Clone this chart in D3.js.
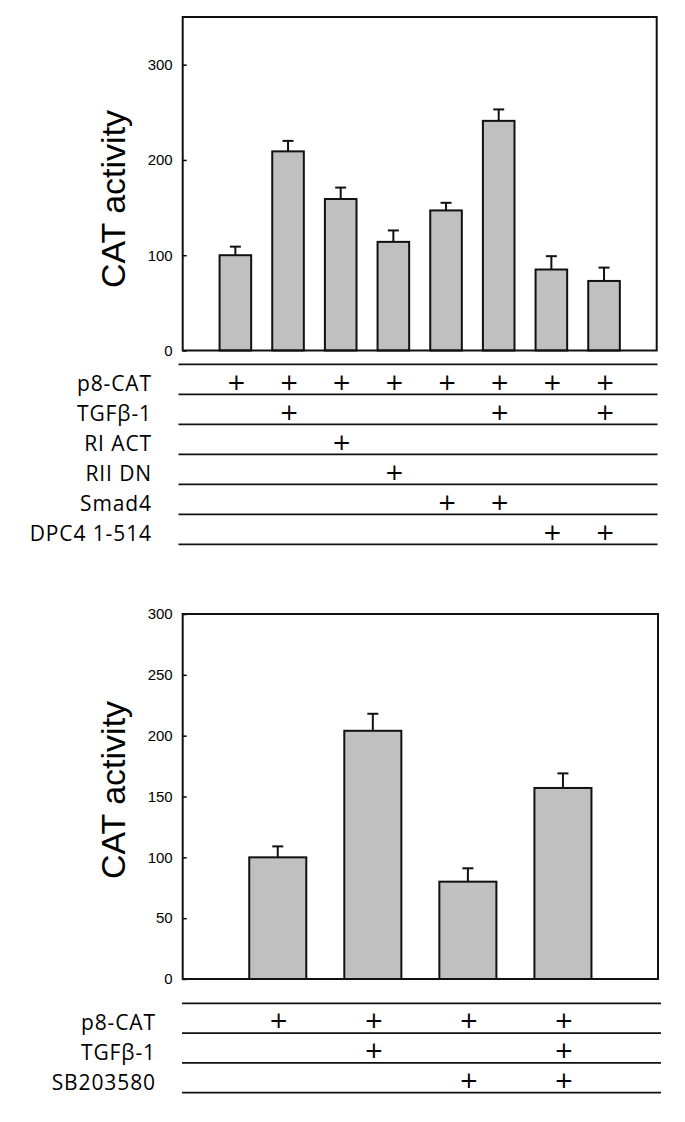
<!DOCTYPE html>
<html>
<head>
<meta charset="utf-8">
<script src="https://cdn.jsdelivr.net/npm/d3@7"></script>
<style>
  html, body { margin: 0; padding: 0; background: #fff; }
  svg { display: block; }
</style>
</head>
<body>
<svg id="chart" width="685" height="1122"></svg>
<script>
// ---------- data ----------
const topConditions = ["c1", "c2", "c3", "c4", "c5", "c6", "c7", "c8"];
const topValues = [100, 209, 159, 114, 147, 241, 85, 73];
const topErrors = [9, 11, 12, 12, 8, 12, 14, 14];
const topTicks = [0, 100, 200, 300];
const topRowLabels = ["p8-CAT", "TGFβ-1", "RI ACT", "RII DN", "Smad4", "DPC4 1-514"];
const topRows = [
  [1, 1, 1, 1, 1, 1, 1, 1],
  [0, 1, 0, 0, 0, 1, 0, 1],
  [0, 0, 1, 0, 0, 0, 0, 0],
  [0, 0, 0, 1, 0, 0, 0, 0],
  [0, 0, 0, 0, 1, 1, 0, 0],
  [0, 0, 0, 0, 0, 0, 1, 1]
];

const botConditions = ["d1", "d2", "d3", "d4"];
const botValues = [100, 204, 80, 157];
const botErrors = [9, 14, 11, 12];
const botTicks = [0, 50, 100, 150, 200, 250, 300];
const botRowLabels = ["p8-CAT", "TGFβ-1", "SB203580"];
const botRows = [
  [1, 1, 1, 1],
  [0, 1, 0, 1],
  [0, 0, 1, 1]
];
const yTitle = "CAT activity";

// ---------- drawing ----------
const svg = d3.select("#chart");

function panel(cfg) {
  const x = d3.scaleBand().domain(cfg.categories)
    .range([cfg.left, cfg.right]).paddingInner(0.4).paddingOuter(0.7);
  const y = d3.scaleLinear().domain(cfg.domain).range([cfg.bottom, cfg.top]);
  const g = svg.append("g");

  // y axis (inward ticks)
  const ax = g.append("g").attr("transform", `translate(${cfg.left},0)`)
    .call(d3.axisLeft(y).tickValues(cfg.ticks).tickSizeInner(-4).tickSizeOuter(0).tickPadding(10));
  ax.attr("font-size", 15).attr("font-family", "Liberation Sans, Arial, sans-serif");
  ax.select(".domain").remove();
  ax.selectAll(".tick line").attr("stroke", "#000").attr("stroke-width", 1.5);
  ax.selectAll(".tick text").attr("fill", "#000");

  // bars
  const data = cfg.values.map((v, i) => ({ c: cfg.categories[i], v, e: cfg.errors[i] }));
  g.selectAll("rect.bar").data(data).join("rect").attr("class", "bar")
    .attr("x", d => x(d.c)).attr("width", x.bandwidth())
    .attr("y", d => y(d.v)).attr("height", d => y(0) - y(d.v))
    .attr("fill", "#c0c0c0").attr("stroke", "#111").attr("stroke-width", 2);

  // error bars (upper only)
  const cap = 11;
  g.selectAll("line.err").data(data).join("line").attr("class", "err")
    .attr("x1", d => x(d.c) + x.bandwidth() / 2).attr("x2", d => x(d.c) + x.bandwidth() / 2)
    .attr("y1", d => y(d.v)).attr("y2", d => y(d.v + d.e))
    .attr("stroke", "#111").attr("stroke-width", 2);
  g.selectAll("line.cap").data(data).join("line").attr("class", "cap")
    .attr("x1", d => x(d.c) + x.bandwidth() / 2 - cap / 2).attr("x2", d => x(d.c) + x.bandwidth() / 2 + cap / 2)
    .attr("y1", d => y(d.v + d.e)).attr("y2", d => y(d.v + d.e))
    .attr("stroke", "#111").attr("stroke-width", 2);

  // frame
  g.append("rect").attr("x", cfg.left).attr("y", cfg.top)
    .attr("width", cfg.right - cfg.left).attr("height", cfg.bottom - cfg.top)
    .attr("fill", "none").attr("stroke", "#111").attr("stroke-width", 2);

  // y title
  g.append("text")
    .attr("transform", `translate(${cfg.titleX},${cfg.titleY}) rotate(-90)`)
    .attr("text-anchor", "middle")
    .attr("font-family", "Liberation Sans, Arial, sans-serif")
    .attr("font-size", 34).attr("fill", "#000")
    .text(yTitle);

  // condition table
  const nRows = cfg.rows.length;
  const lineYs = d3.range(nRows + 1).map(i => cfg.tableTop + i * cfg.rowH);
  g.selectAll("line.row").data(lineYs).join("line").attr("class", "row")
    .attr("x1", cfg.lineLeft).attr("x2", cfg.lineRight)
    .attr("y1", d => d).attr("y2", d => d)
    .attr("stroke", "#111").attr("stroke-width", 1.8);

  g.selectAll("text.rowlab").data(cfg.rowLabels).join("text").attr("class", "rowlab")
    .attr("x", cfg.labelRight).attr("y", (d, i) => lineYs[i + 1] - 3)
    .attr("text-anchor", "end")
    .attr("font-family", "Open Sans, sans-serif")
    .attr("font-size", 21).attr("letter-spacing", 0.9).attr("fill", "#000")
    .text(d => d);

  cfg.rows.forEach((row, r) => {
    const cy = (lineYs[r] + lineYs[r + 1]) / 2 + 2;
    g.selectAll(null).data(row.map((on, i) => ({ on, c: cfg.categories[i] })).filter(d => d.on))
      .join("text")
      .attr("x", d => x(d.c) + x.bandwidth() / 2 + 1)
      .attr("y", cy)
      .attr("dy", "0.36em")
      .attr("text-anchor", "middle")
      .attr("font-family", "DejaVu Sans, sans-serif")
      .attr("font-size", 23).attr("fill", "#000")
      .text("+");
  });
}

panel({
  categories: topConditions, values: topValues, errors: topErrors, ticks: topTicks,
  domain: [0, 350], left: 182.7, right: 656.7, top: 17, bottom: 350.5,
  titleX: 125, titleY: 199,
  rows: topRows, rowLabels: topRowLabels,
  tableTop: 364.3, rowH: 30, lineLeft: 178.5, lineRight: 657.5, labelRight: 152
});

panel({
  categories: botConditions, values: botValues, errors: botErrors, ticks: botTicks,
  domain: [0, 300], left: 182.7, right: 658, top: 614, bottom: 979,
  titleX: 125, titleY: 790,
  rows: botRows, rowLabels: botRowLabels,
  tableTop: 1003.3, rowH: 29.8, lineLeft: 182, lineRight: 661, labelRight: 156
});
</script>
</body>
</html>
